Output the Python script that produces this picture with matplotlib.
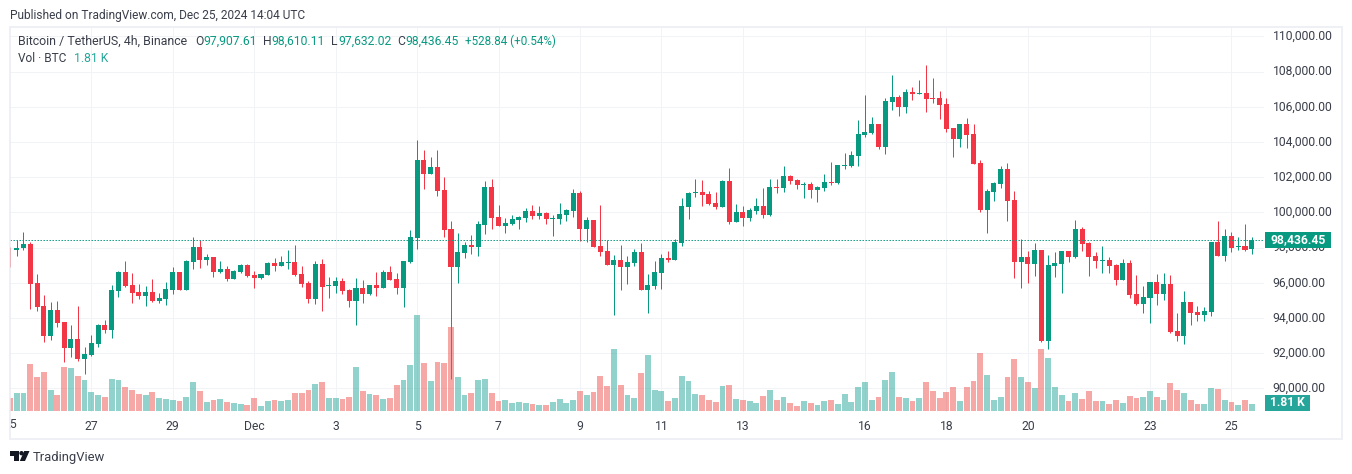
import matplotlib
matplotlib.use("Agg")
import matplotlib.pyplot as plt
from matplotlib.patches import Rectangle, Polygon
from matplotlib.transforms import Bbox, ScaledTranslation
import numpy as np

# BTC/USDT 4h candles
opens = [
    97890, 97850, 97960, 98190, 95970, 94670, 92960, 94440, 93760, 92280,
    92790, 91660, 91880, 92510, 93590, 93300, 95520, 96600, 95860, 95460,
    95240, 95460, 94950, 95070, 95580, 96600, 95580, 97170, 98020, 97280,
    97450, 96600, 96770, 96200, 96600, 97000, 96430, 96260, 96430, 97110,
    96940, 97130, 97170, 96480, 95970, 95070, 97050, 95840, 95800, 96090,
    95580, 94950, 95690, 95350, 95860, 95690, 96600, 96200, 95690, 97170,
    98530, 102960, 102160, 102560, 101260, 99040, 96880, 97680, 98130, 98020,
    99270, 101430, 99720, 99210, 99320, 99550, 99670, 100060, 99780, 99950,
    99610, 99610, 99840, 100060, 101090, 99040, 99550, 98070, 97790, 97000,
    97280, 96880, 97110, 97730, 95580, 95800, 96540, 97390, 97280, 98240,
    100290, 101090, 101140, 101030, 100520, 100290, 101770, 99440, 100010, 99670,
    100060, 100350, 99840, 101430, 101370, 102050, 101820, 101540, 101600, 101260,
    101370, 101710, 101650, 102620, 102620, 103190, 104380, 104490, 105000, 103700,
    106250, 106540, 105970, 106820, 106710, 106770, 106480, 106480, 106140, 104780,
    104150, 105000, 104440, 102790, 100120, 101140, 101600, 102450, 100690, 97170,
    97450, 97050, 97850, 92680, 96940, 97050, 97790, 97450, 99040, 98250,
    97510, 97220, 97280, 96990, 96140, 97110, 95350, 94780, 95120, 96030,
    95350, 95920, 93250, 92960, 94890, 94330, 94160, 94330, 98300, 97510,
    98640, 98020, 98070, 97907.61,
]
highs = [
    98040, 98410, 98870, 98300, 96480, 95290, 94890, 94950, 93760, 93590,
    94670, 92340, 93020, 93650, 93870, 95860, 96660, 97220, 96540, 95920,
    95800, 96200, 95410, 96030, 96880, 96600, 97280, 98590, 98420, 97620,
    97450, 97220, 96940, 96710, 97050, 97050, 96660, 96480, 97170, 97390,
    97510, 97850, 98130, 96940, 96090, 97220, 97340, 96310, 96310, 96260,
    95630, 96260, 96140, 95860, 96600, 96710, 96940, 96540, 97220, 98980,
    104095, 103530, 103130, 103530, 101990, 99500, 98810, 98300, 98700, 99500,
    101770, 101880, 100400, 99670, 99840, 99780, 100230, 100400, 100350, 100010,
    99840, 100520, 100180, 101310, 101200, 99720, 99550, 100400, 98420, 97560,
    98130, 97510, 97900, 98240, 96490, 97220, 97620, 97790, 98470, 100800,
    101140, 101880, 101820, 101200, 101140, 101820, 102500, 100460, 100350, 100230,
    100800, 101370, 101880, 101880, 102620, 102110, 101880, 101710, 101710, 101480,
    102165, 102850, 102680, 103360, 103470, 105230, 106650, 105400, 105000, 106480,
    107790, 106650, 106990, 107100, 107500, 108355, 107620, 106880, 106480, 104780,
    105000, 105340, 105000, 102960, 101310, 101710, 102620, 102790, 101200, 98470,
    97790, 98245, 97850, 97560, 97730, 97790, 97790, 99550, 99150, 98300,
    97730, 98070, 97450, 97050, 97340, 97280, 96430, 95800, 96030, 96480,
    96540, 96430, 94270, 95520, 94890, 94670, 94610, 98300, 99490, 99040,
    98870, 98590, 99320, 98610.11,
]
lows = [
    96900, 97510, 97850, 94500, 94380, 92620, 92740, 93470, 91490, 91770,
    91540, 90810, 91830, 92340, 93130, 92850, 95180, 95750, 94840, 95060,
    94670, 94890, 94840, 94720, 95350, 95580, 95580, 96770, 96830, 96990,
    96310, 96540, 96090, 96200, 96540, 96310, 95690, 96200, 96430, 96660,
    96940, 96770, 96370, 95750, 94840, 94780, 94380, 95120, 95410, 95350,
    94610, 93590, 94840, 95290, 95240, 95690, 96140, 95350, 94610, 97110,
    97905, 101310, 102160, 100920, 98590, 90540, 95990, 97390, 97620, 97510,
    98760, 99040, 99210, 98810, 99270, 99040, 99440, 99610, 99610, 99320,
    98640, 99320, 99500, 99720, 98360, 98300, 98020, 97510, 97000, 94170,
    95580, 95920, 96940, 95580, 94270, 95630, 95630, 97170, 97280, 98070,
    99610, 100860, 100350, 100400, 100180, 100290, 99320, 99440, 99210, 99500,
    99890, 99670, 99780, 101090, 101140, 101600, 101310, 100800, 100800, 100575,
    101200, 101540, 101600, 102450, 102560, 102620, 104270, 104440, 103590, 103300,
    105800, 105460, 105630, 106370, 106710, 105690, 106200, 105290, 104550, 103130,
    103700, 103640, 102730, 100010, 98810, 100630, 101370, 99500, 96260, 95690,
    95970, 96370, 92620, 92225, 96310, 95405, 97170, 97390, 97790, 96370,
    96830, 96540, 96540, 95860, 96140, 95120, 94720, 94270, 93700, 94720,
    95010, 93130, 92680, 92510, 93590, 93810, 93810, 94100, 97510, 97220,
    97730, 97850, 97790, 97632.02,
]
closes = [
    97850, 98000, 98190, 95920, 94610, 92960, 94440, 93700, 92280, 92790,
    91660, 91940, 92570, 93590, 93300, 95580, 96600, 95800, 95410, 95240,
    95460, 94950, 95120, 95630, 96600, 95580, 97220, 98020, 97280, 97450,
    96600, 96770, 96200, 96660, 97000, 96370, 96260, 96480, 97110, 96940,
    97170, 97170, 96430, 95920, 95070, 97050, 95750, 95880, 96090, 95520,
    94950, 95690, 95350, 95860, 95690, 96600, 96140, 95690, 97220, 98590,
    102960, 102160, 102560, 101200, 98980, 96880, 97730, 98130, 98020, 99320,
    101430, 99670, 99210, 99380, 99610, 99720, 100060, 99780, 99950, 99610,
    99670, 99890, 100120, 101090, 99040, 99550, 98020, 97730, 97000, 97280,
    96880, 97170, 97730, 95580, 95860, 96600, 97390, 97280, 98300, 100350,
    101090, 101140, 100970, 100460, 100290, 101770, 99440, 100010, 99670, 100120,
    100350, 99840, 101430, 101370, 102050, 101770, 101540, 101600, 101260, 101430,
    101710, 101650, 102680, 102680, 103240, 104440, 104550, 105000, 103700, 106310,
    106540, 105970, 106820, 106710, 106770, 106420, 106420, 106080, 104720, 104150,
    105000, 104380, 102730, 100120, 101200, 101650, 102450, 100630, 97170, 97450,
    97050, 97850, 92680, 96990, 97110, 97790, 97450, 99040, 98190, 97450,
    97220, 97280, 96940, 96140, 97110, 95290, 94780, 95180, 96030, 95350,
    95920, 93190, 92960, 94890, 94270, 94160, 94380, 98300, 97510, 98640,
    97960, 98070, 97850, 98436.45,
]
# volume in thousands of BTC
volumes = [
    3.36, 4.65, 4.65, 12.15, 8.79, 10.09, 5.43, 4.14, 11.38, 11.12,
    9.05, 8.02, 4.91, 4.14, 3.62, 8.28, 8.02, 6.21, 5.43, 4.40,
    4.14, 4.91, 3.36, 3.10, 2.84, 2.59, 3.62, 7.50, 5.17, 2.33,
    2.84, 3.10, 2.33, 2.07, 1.81, 1.55, 3.36, 1.29, 2.59, 2.84,
    2.59, 2.84, 4.65, 4.65, 5.43, 6.98, 7.50, 3.36, 3.36, 3.10,
    3.62, 11.38, 5.17, 4.40, 4.14, 3.10, 3.36, 6.72, 8.02, 11.90,
    24.83, 12.41, 7.76, 12.67, 12.41, 21.72, 8.79, 4.14, 4.65, 8.02,
    8.28, 4.65, 2.59, 2.84, 2.07, 2.33, 2.07, 1.81, 1.55, 1.55,
    2.33, 3.10, 2.07, 2.84, 5.17, 4.14, 4.91, 9.05, 6.47, 16.03,
    6.72, 4.14, 3.36, 9.83, 14.48, 5.43, 5.17, 2.59, 3.36, 9.05,
    7.76, 4.40, 4.14, 2.84, 2.33, 6.47, 6.72, 3.10, 2.84, 2.59,
    2.07, 3.88, 5.43, 2.84, 3.62, 2.07, 1.29, 2.59, 2.07, 1.55,
    2.59, 2.84, 1.81, 4.40, 2.33, 6.21, 7.50, 2.84, 3.62, 8.02,
    10.09, 3.62, 3.36, 2.59, 3.36, 7.50, 5.17, 3.36, 4.91, 6.21,
    2.59, 6.21, 7.76, 15.00, 9.31, 2.84, 3.62, 8.79, 13.45, 8.79,
    7.50, 5.95, 16.03, 13.71, 6.21, 4.14, 2.59, 4.65, 3.10, 5.17,
    2.59, 2.59, 1.81, 2.84, 2.07, 3.88, 3.36, 3.62, 5.17, 3.62,
    2.84, 7.24, 5.43, 4.65, 2.84, 1.81, 1.81, 5.95, 5.69, 2.84,
    2.33, 1.55, 2.84, 1.81,
]
date_ticks = [12, 24, 36, 48, 60, 72, 84, 96, 108, 126, 138, 150, 168, 180]
date_labels = ["27", "29", "Dec", "3", "5", "7", "9", "11", "13", "16", "18", "20", "23", "25"]
price_ticks = list(range(90000, 110001, 2000))

UP = "#089981"
DOWN = "#f23645"
VOL_UP = "#26a69a"
VOL_DOWN = "#ef5350"
GRID = "#f2f3f6"
FRAME = "#e8ebf1"
TEXT = "#3a3e4a"
W, H = 1352, 474
PX = 0.72  # one pixel in points at dpi 100

plt.rcParams["font.family"] = ["Roboto", "DejaVu Sans"]


def fx(x):
    return x / W


def fy(y):
    return 1 - y / H


def label(x, y, s, color=TEXT, size=8.7, **kw):
    fig.text(fx(x), fy(y), s, color=color, fontsize=size, va="center", **kw)


o = np.array(opens)
h = np.array(highs)
l = np.array(lows)
c = np.array(closes)
v = np.array(volumes)
x = np.arange(len(c))
up = c >= o

fig = plt.figure(figsize=(W / 100, H / 100), dpi=100)
# drawn over the pane, so the first candle shows faintly through it
fig.add_artist(Rectangle((fx(10), fy(438.5)), fx(1332), 411.5 / H, fill=False, alpha=0.7,
                         edgecolor=FRAME, linewidth=2 * PX, transform=fig.transFigure))

# pane runs 10..1264 in x and 28..412 in y
PANE_W = 1254
ax = fig.add_axes([fx(10), fy(412), fx(PANE_W), 384 / H])
ax_vol = ax.twinx()
ax.set_xlim(0.015, 184.8)
ax.set_ylim(88659, 110477)
for s in ax.spines.values():
    s.set_visible(False)
ax.set_axisbelow(True)
ax.grid(True, color=GRID, linewidth=PX)

ax.yaxis.tick_right()
ax.set_yticks(price_ticks)
ax.set_yticklabels([f"{p:,.2f}" for p in price_ticks], color=TEXT, fontsize=8.7)
ax.set_xticks(date_ticks)
ax.set_xticklabels(date_labels, color=TEXT, fontsize=8.7)
ax.tick_params(length=0)
ax.tick_params(axis="y", pad=6.2)
ax.tick_params(axis="x", pad=5.5)
# price labels sit a little above their gridlines
lift = ScaledTranslation(0, 1.5 / 100, fig.dpi_scale_trans)
for tick in ax.yaxis.get_major_ticks():
    tick.label2.set_transform(tick.label2.get_transform() + lift)

# the 25 sits on the pane edge and gets cut off
tick25 = ax.text(0, -0.033, "25", ha="center", va="center", color=TEXT, fontsize=8.7,
                 transform=ax.get_xaxis_transform())
tick25.set_clip_on(True)
tick25.set_clip_box(Bbox([[10, 0], [W, H]]))

colors = np.where(up, UP, DOWN)
wicks = ax.vlines(x, l, h, colors=colors, linewidth=PX, zorder=3)
wicks.set_snap(True)
ax.bar(x, np.maximum(np.abs(c - o), 40), bottom=np.minimum(o, c), width=0.74, color=colors,
       linewidth=0, zorder=4)

last_line = ax.axhline(c[-1], color=UP, linewidth=PX, linestyle=(0, (1.4, 1.6)), zorder=5)
last_line.set_snap(True)
ax.add_patch(Rectangle((1.0008, c[-1] - 465), 66 / PANE_W, 930, facecolor=UP, edgecolor="none",
                       transform=ax.get_yaxis_transform(), clip_on=False, zorder=6))
ax.text(1.0008 + 33 / PANE_W, c[-1], f"{c[-1]:,.2f}", color="white", fontsize=8.7, fontweight="bold",
        ha="center", va="center", transform=ax.get_yaxis_transform(), zorder=7)

ax_vol.set_ylim(-0.26, 99.04)
ax_vol.set_yticks([])
ax_vol.patch.set_visible(False)
for s in ax_vol.spines.values():
    s.set_visible(False)
ax_vol.bar(x, v, width=0.86, color=np.where(up, VOL_UP, VOL_DOWN), alpha=0.5, linewidth=0)
ax_vol.add_patch(Rectangle((1.0008, 0), 45 / PANE_W, 4.14, facecolor=VOL_UP, edgecolor="none",
                           transform=ax_vol.get_yaxis_transform(), clip_on=False, zorder=6))
ax_vol.text(1.0008 + 22.5 / PANE_W, 2.07, "1.81 K", color="white", fontsize=8.7, fontweight="bold",
            ha="center", va="center", transform=ax_vol.get_yaxis_transform(), zorder=7)

# header and legend rows
label(10, 15, "Published on TradingView.com, Dec 25, 2024 14:04 UTC", size=8.6)
label(18, 41.5, "Bitcoin / TetherUS, 4h, Binance", size=8.95)
for px, s, col, sz in [
    (195, "O", TEXT, 8.7), (203, "97,907.61", UP, 8.7),
    (263, "H", TEXT, 8.7), (271, "98,610.11", UP, 8.7),
    (331, "L", TEXT, 8.7), (338, "97,632.02", UP, 8.7),
    (397, "C", TEXT, 8.7), (405, "98,436.45", UP, 8.7),
    (465, "+528.84 (+0.54%)", UP, 8.4),
]:
    label(px, 41.5, s, color=col, size=sz)
label(18, 59, "Vol · BTC", size=8.6)
label(74, 59, "1.81 K", color=VOL_UP)

# TradingView logo and wordmark at the bottom
DARK = "#131722"
logo_t = [(10, 451), (19, 451), (19, 461), (14.5, 461), (14.5, 455.5), (10, 455.5)]
logo_s = [(24.2, 451), (29.5, 451), (25, 461), (19.8, 461)]
for pts in (logo_t, logo_s):
    fig.add_artist(Polygon([(fx(a), fy(b)) for a, b in pts], closed=True, facecolor=DARK,
                           edgecolor="none", transform=fig.transFigure))
fig.add_artist(Polygon([(fx(21.5 + 2.2 * np.cos(t)), fy(453.2 + 2.2 * np.sin(t)))
                        for t in np.linspace(0, 2 * np.pi, 24)], closed=True, facecolor=DARK,
                       edgecolor="none", transform=fig.transFigure))
label(33, 457, "TradingView", size=9.4)

fig.savefig("out.png", dpi=100)
